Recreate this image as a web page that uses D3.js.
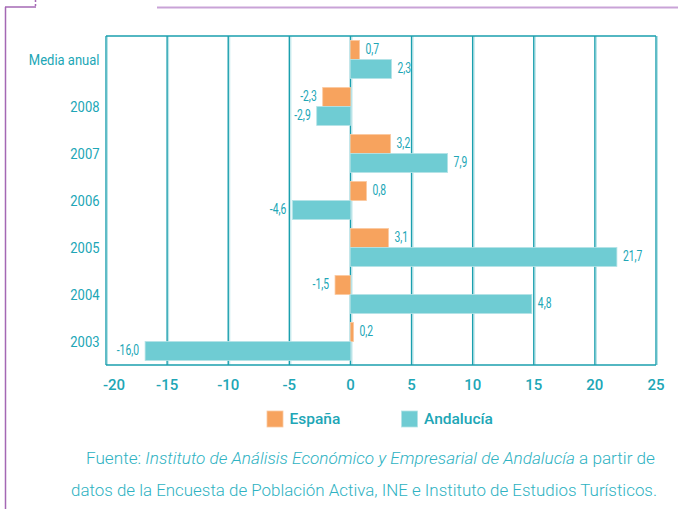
<!DOCTYPE html>
<html>
<head>
<meta charset="utf-8">
<script src="https://cdn.jsdelivr.net/npm/d3@7"></script>
<style>
  body { margin: 0; background: #fff; }
  svg { display: block; }
  text { font-family: Roboto, "Noto Sans", sans-serif; }
</style>
</head>
<body>
<div id="chart"></div>
<script>
// data (bar lengths as drawn, labels as printed)
var categories      = ["Media anual", "2008", "2007", "2006", "2005", "2004", "2003"];
var espana          = [0.74, -2.27, 3.28, 1.31, 3.11, -1.26, 0.25];
var andalucia       = [3.36, -2.76, 7.95, -4.75, 21.8, 14.84, -16.8];
var espanaLabels    = ["0,7", "-2,3", "3,2", "0,8", "3,1", "-1,5", "0,2"];
var andaluciaLabels = ["2,3", "-2,9", "7,9", "-4,6", "21,7", "4,8", "-16,0"];
var xTicks          = [-20, -15, -10, -5, 0, 5, 10, 15, 20, 25];
var seriesNames     = ["España", "Andalucía"];

var width = 678, height = 509;
var colEs = "#f7a35e", colAn = "#6fccd3";
var textCol = "#20a6b6", gridCol = "#1a9fae";

var svg = d3.select("#chart").append("svg")
	.attr("width", width)
	.attr("height", height);

// page decoration (purple rules)
var deco = svg.append("g").attr("class", "deco");
deco.append("line").attr("x1", 157).attr("x2", 678).attr("y1", 7.5).attr("y2", 7.5)
	.attr("stroke", "#c9a3d7").attr("stroke-width", 2);
deco.append("line").attr("x1", 5).attr("x2", 36).attr("y1", 7).attr("y2", 7)
	.attr("stroke", "#a468b4").attr("stroke-width", 1.5);
deco.append("line").attr("x1", 5.5).attr("x2", 5.5).attr("y1", 7).attr("y2", height)
	.attr("stroke", "#a468b4").attr("stroke-width", 1.5);
deco.append("line").attr("x1", 35.5).attr("x2", 35.5).attr("y1", 0).attr("y2", 8)
	.attr("stroke", "#a468b4").attr("stroke-width", 1.5).attr("stroke-dasharray", "2,2");

var plot = { left: 106, right: 656, top: 36, bottom: 365 };

var x = d3.scaleLinear().domain([-20, 25]).range([plot.left, plot.right]);
var y = d3.scaleBand().domain(categories).range([plot.top, plot.bottom]);
var sub = d3.scaleBand().domain(seriesNames).range([4.5, y.bandwidth() - 4.5]);

// grid + frame
var grid = svg.append("g").attr("class", "grid");
grid.selectAll("line.shade").data(xTicks).enter().append("line").attr("class", "shade")
	.attr("x1", function(d){ return x(d) + 1.5; }).attr("x2", function(d){ return x(d) + 1.5; })
	.attr("y1", plot.top).attr("y2", plot.bottom)
	.attr("stroke", "#b5e3e7").attr("stroke-width", 1);
grid.selectAll("line.main").data(xTicks).enter().append("line").attr("class", "main")
	.attr("x1", function(d){ return x(d); }).attr("x2", function(d){ return x(d); })
	.attr("y1", plot.top).attr("y2", plot.bottom)
	.attr("stroke", gridCol).attr("stroke-width", 1.4);
grid.append("line").attr("x1", plot.left).attr("x2", plot.right).attr("y1", plot.top).attr("y2", plot.top)
	.attr("stroke", gridCol).attr("stroke-width", 1.4);
grid.append("line").attr("x1", plot.left).attr("x2", plot.right).attr("y1", plot.bottom).attr("y2", plot.bottom)
	.attr("stroke", gridCol).attr("stroke-width", 1.4);

// bars
var rows = categories.map(function(c, i){
	return [
		{ cat: c, key: "España", v: espana[i], label: espanaLabels[i], color: colEs },
		{ cat: c, key: "Andalucía", v: andalucia[i], label: andaluciaLabels[i], color: colAn }
	];
});
var flat = [].concat.apply([], rows);

var bars = svg.append("g").attr("class", "bars");
bars.selectAll("rect").data(flat).enter().append("rect")
	.attr("x", function(d){ return Math.min(x(0), x(d.v)); })
	.attr("y", function(d){ return y(d.cat) + sub(d.key); })
	.attr("width", function(d){ return Math.abs(x(d.v) - x(0)); })
	.attr("height", sub.bandwidth())
	.attr("fill", function(d){ return d.color; })
	.attr("stroke", function(d){ return d.key == "España" ? "#fbc9a0" : "#b3e3e7"; })
	.attr("stroke-width", 0.8);

// value labels (condensed look)
bars.selectAll("text").data(flat).enter().append("text")
	.attr("transform", function(d){
		var px = d.v < 0 ? x(d.v) - 6 : x(d.v) + 6;
		var py = y(d.cat) + sub(d.key) + sub.bandwidth() / 2 - 1;
		return "translate(" + px + "," + py + ") scale(0.74,1)";
	})
	.attr("dy", "0.35em")
	.attr("text-anchor", function(d){ return d.v < 0 ? "end" : "start"; })
	.attr("fill", textCol)
	.style("font-size", "14px")
	.text(function(d){ return d.label; });

// category labels
svg.append("g").attr("class", "cats").selectAll("text").data(categories).enter().append("text")
	.attr("transform", function(d){ return "translate(99.5," + (y(d) + y.bandwidth() / 2) + ") scale(0.84,1)"; })
	.attr("dy", "0.35em")
	.attr("text-anchor", "end")
	.attr("fill", textCol)
	.style("font-size", "15.5px")
	.text(function(d){ return d; });

// x tick labels
svg.append("g").attr("class", "xticks").selectAll("text").data(xTicks).enter().append("text")
	.attr("x", function(d, i){ return i == 0 ? x(d) - 3 : x(d); })
	.attr("y", 385)
	.attr("dy", "0.35em")
	.attr("text-anchor", function(d, i){ return i == 0 ? "start" : "middle"; })
	.attr("fill", textCol)
	.style("font-size", "15px")
	.style("font-weight", 500)
	.text(function(d){ return d; });

// legend
var legend = svg.append("g").attr("class", "legend");
var legendX = [267, 401.5];
seriesNames.forEach(function(name, i){
	var g = legend.append("g").attr("transform", "translate(" + legendX[i] + ",411)");
	g.append("rect").attr("width", 16).attr("height", 16)
		.attr("fill", i == 0 ? colEs : colAn)
		.attr("stroke", i == 0 ? "#fbc9a0" : "#b3e3e7").attr("stroke-width", 0.8);
	g.append("text").attr("x", 22.5).attr("y", 8).attr("dy", "0.35em")
		.attr("fill", textCol)
		.style("font-size", "15.5px")
		.style("font-weight", 500)
		.text(name);
});

// source note
var src = svg.append("g").attr("class", "source").attr("fill", "#2eb2c2")
	.style("font-size", "16.5px").style("font-weight", 300);
var l1 = src.append("text").attr("x", 86).attr("y", 464)
	.attr("textLength", 569).attr("lengthAdjust", "spacingAndGlyphs");
l1.append("tspan").text("Fuente: ");
l1.append("tspan").style("font-style", "italic").text("Instituto de Análisis Económico y Empresarial de Andalucía");
l1.append("tspan").text(" a partir de");
src.append("text").attr("x", 71).attr("y", 496)
	.attr("textLength", 586).attr("lengthAdjust", "spacingAndGlyphs")
	.text("datos de la Encuesta de Población Activa, INE e Instituto de Estudios Turísticos.");
</script>
</body>
</html>
